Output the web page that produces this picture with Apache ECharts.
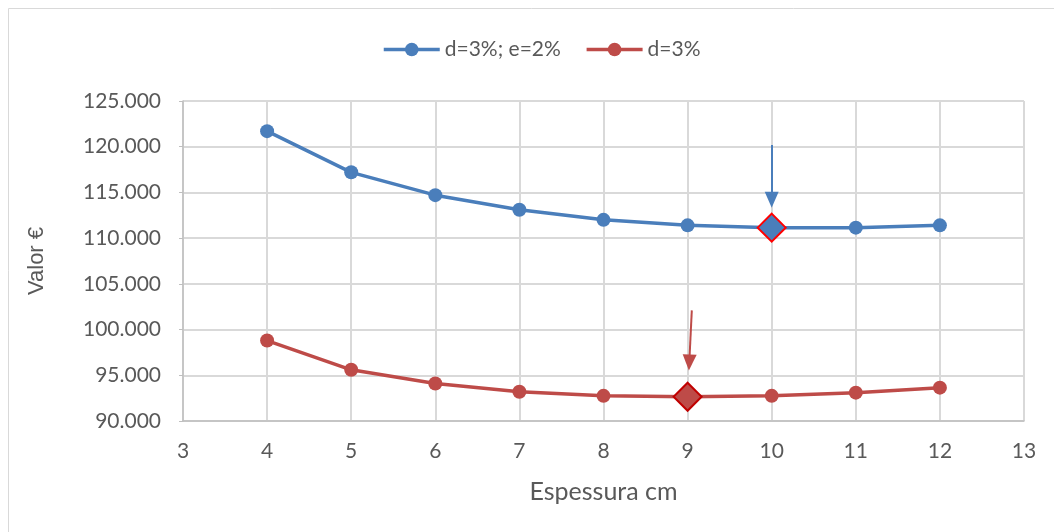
<!DOCTYPE html>
<html><head><meta charset="utf-8">
<script src="https://cdn.jsdelivr.net/npm/echarts@6/dist/echarts.min.js"></script>
<style>html,body{margin:0;padding:0;background:#fff}#c{width:1054px;height:532px}</style>
</head><body><div id="c"></div>
<script>
const xValues = [4, 5, 6, 7, 8, 9, 10, 11, 12];
const seriesNames = ['d=3%; e=2%', 'd=3%'];
const blueValues = [121700, 117200, 114700, 113100, 112000, 111400, 111150, 111150, 111400];
const redValues = [98800, 95600, 94100, 93200, 92750, 92650, 92750, 93100, 93650];
const blueOptimum = [10, 111150];
const redOptimum = [9, 92650];
const blueArrow = [[10, 120200], [10, 114200]];
const redArrow = [[9.05, 102100], [9.02, 96400]];
const font = 'Lato, "Open Sans", sans-serif';
const blue = '#4a7ebb', red = '#be4b48';
const chart = echarts.init(document.getElementById('c'));
const pair = (xs, ys) => xs.map((x, i) => [x, ys[i]]);
function fmt(v){ return String(v).replace(/\B(?=(\d{3})+(?!\d))/g, '.'); }
chart.setOption({
  animation: false,
  textStyle: {fontFamily: font},
  graphic: [{type:'rect', shape:{x:8.5,y:8.5,width:1060,height:540}, style:{fill:'none', stroke:'#d9d9d9', lineWidth:1}, silent:true}],
  legend: {
    top: 34, left: 377, itemWidth: 56, itemHeight: 17, itemGap: 24,
    lineStyle: {width: 3.5},
    textStyle: {fontSize: 21, color: '#595959', fontFamily: font},
    data: seriesNames
  },
  grid: {left: 183, right: 30, top: 101, bottom: 111},
  xAxis: {
    type: 'value', min: 3, max: 13, interval: 1,
    name: 'Espessura cm', nameLocation: 'middle', nameGap: 58,
    nameTextStyle: {fontSize: 25, color: '#595959', fontFamily: font},
    axisLine: {show: true, lineStyle: {color: '#bfbfbf', width: 1.5}},
    axisTick: {show: false},
    axisLabel: {fontSize: 21, color: '#595959', margin: 20},
    splitLine: {show: true, lineStyle: {color: '#d9d9d9', width: 2}}
  },
  yAxis: {
    type: 'value', min: 90000, max: 125000, interval: 5000,
    name: 'Valor €', nameLocation: 'middle', nameGap: 135, nameRotate: 90,
    nameTextStyle: {fontSize: 22, color: '#595959', fontFamily: '"Liberation Sans", Arial, sans-serif'},
    axisLine: {show: true, lineStyle: {color: '#bfbfbf', width: 1.5}},
    axisTick: {show: true, length: 4, lineStyle: {color: '#bfbfbf'}},
    axisLabel: {fontSize: 21, color: '#595959', margin: 22, formatter: fmt},
    splitLine: {show: true, lineStyle: {color: '#d9d9d9', width: 2}}
  },
  series: [
    {
      name: seriesNames[0], type: 'line', data: pair(xValues, blueValues),
      symbol: 'circle', symbolSize: 14, lineStyle: {color: blue, width: 3.5}, itemStyle: {color: blue},
      markPoint: {symbol: 'diamond', symbolSize: 28, label: {show: false},
        itemStyle: {color: blue, borderColor: '#ff0000', borderWidth: 2},
        data: [{coord: blueOptimum}]},
      markLine: {silent: true, symbol: ['none', 'triangle'], symbolSize: [14, 16], label: {show: false},
        lineStyle: {color: blue, width: 2, type: 'solid'},
        data: [[{coord: blueArrow[0]}, {coord: blueArrow[1]}]]},
      z: 3
    },
    {
      name: seriesNames[1], type: 'line', data: pair(xValues, redValues),
      symbol: 'circle', symbolSize: 14, lineStyle: {color: red, width: 3.5}, itemStyle: {color: red},
      markPoint: {symbol: 'diamond', symbolSize: 28, label: {show: false},
        itemStyle: {color: red, borderColor: '#c00000', borderWidth: 2},
        data: [{coord: redOptimum}]},
      markLine: {silent: true, symbol: ['none', 'triangle'], symbolSize: [14, 16], label: {show: false},
        lineStyle: {color: red, width: 2, type: 'solid'},
        data: [[{coord: redArrow[0]}, {coord: redArrow[1]}]]},
      z: 3
    }
  ]
});
</script></body></html>
